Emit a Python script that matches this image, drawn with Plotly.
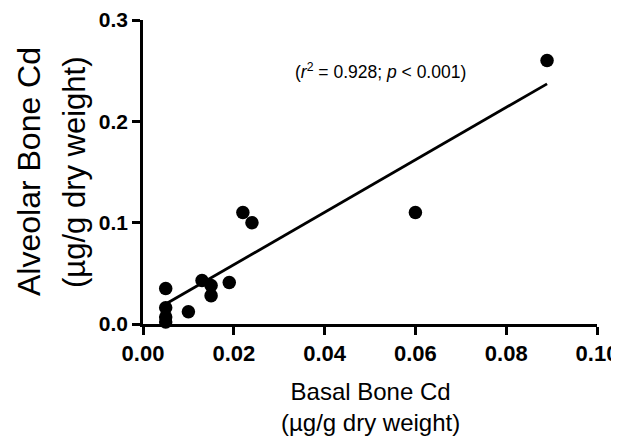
import plotly.graph_objects as go

basal_cd = [0.005, 0.005, 0.005, 0.005, 0.010, 0.013, 0.015, 0.015, 0.019, 0.022, 0.024, 0.060, 0.089]
alveolar_cd = [0.035, 0.016, 0.007, 0.002, 0.012, 0.043, 0.038, 0.028, 0.041, 0.110, 0.100, 0.110, 0.260]
fit_x = [0.005, 0.089]
fit_y = [0.0197, 0.237]
x_ticks = [0.00, 0.02, 0.04, 0.06, 0.08, 0.10]
y_ticks = [0.0, 0.1, 0.2, 0.3]

FONT = "Liberation Sans, Arial, sans-serif"

fig = go.Figure()
fig.add_trace(go.Scatter(x=fit_x, y=fit_y, mode="lines",
                         line=dict(color="black", width=2.8), showlegend=False,
                         cliponaxis=False))
fig.add_trace(go.Scatter(x=basal_cd, y=alveolar_cd, mode="markers",
                         marker=dict(color="black", size=13.5, line=dict(width=0)),
                         showlegend=False, cliponaxis=False))

axis_common = dict(showgrid=False, zeroline=False, showline=True, linecolor="black",
                   linewidth=2.5, ticks="outside", ticklen=8, tickwidth=2.5, tickcolor="black",
                   automargin=False)
fig.update_xaxes(range=[0, 0.1], tickvals=x_ticks, ticktext=[f"{v:.2f}" for v in x_ticks],
                 tickfont=dict(family=FONT, size=22, color="black", weight="bold"),
                 **axis_common)
fig.update_yaxes(range=[0, 0.3], tickvals=y_ticks, ticktext=[f"{v:.1f}" for v in y_ticks],
                 tickfont=dict(family=FONT, size=21, color="black", weight="bold"),
                 **axis_common)

fig.add_annotation(xref="paper", yref="paper", x=0, y=0.5, xshift=-114, textangle=-90,
                   xanchor="center", yanchor="middle",
                   text="Alveolar Bone Cd", showarrow=False,
                   font=dict(family=FONT, size=32, color="black"))
fig.add_annotation(xref="paper", yref="paper", x=0, y=0.5, xshift=-69, textangle=-90,
                   xanchor="center", yanchor="middle",
                   text="(µg/g dry weight)", showarrow=False,
                   font=dict(family=FONT, size=31, color="black"))
fig.add_annotation(xref="paper", yref="paper", x=0.5, y=0, yshift=-52, yanchor="top",
                   text="Basal Bone Cd<br>(µg/g dry weight)", showarrow=False,
                   font=dict(family=FONT, size=24, color="black"))
fig.add_annotation(xref="x", yref="y", x=0.033, y=0.25, xanchor="left",
                   text="(<i>r</i><sup>2</sup> = 0.928; <i>p</i> &lt; 0.001)", showarrow=False,
                   font=dict(family=FONT, size=17.5, color="black"))

# page body has an 8px margin; compensate so the plot lands where the reference has it
fig.update_layout(width=611, height=429, margin=dict(l=135, r=22, t=12, b=113),
                  plot_bgcolor="white", paper_bgcolor="white")
fig.write_html("out.html")
